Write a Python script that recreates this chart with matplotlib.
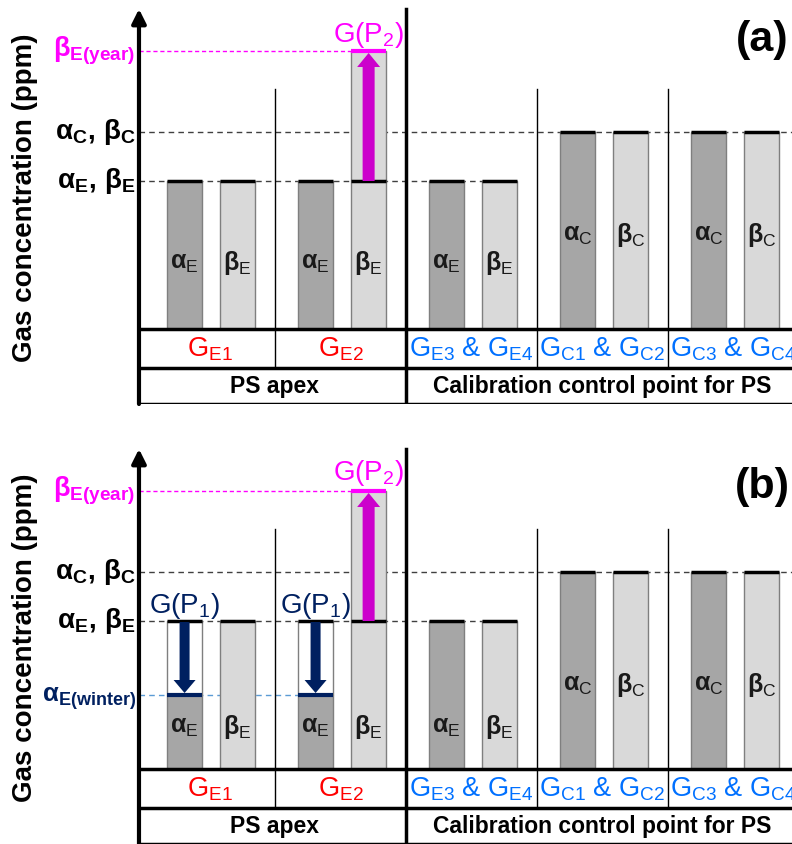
import matplotlib
matplotlib.use('Agg')
import matplotlib.pyplot as plt

plt.rcParams['font.family'] = 'Liberation Sans'
plt.rcParams['mathtext.fontset'] = 'custom'
plt.rcParams['mathtext.rm'] = 'Liberation Sans'
plt.rcParams['mathtext.bf'] = 'Liberation Sans:bold'
plt.rcParams['mathtext.it'] = 'Liberation Sans:italic'

# ---------------------------------------------------------------------------
# Data (schematic concentration levels, arbitrary ppm units)
# ---------------------------------------------------------------------------
GROUP_LABELS = [r'$\mathregular{G_{E1}}$', r'$\mathregular{G_{E2}}$',
                r'$\mathregular{G_{E3}}$ & $\mathregular{G_{E4}}$',
                r'$\mathregular{G_{C1}}$ & $\mathregular{G_{C2}}$',
                r'$\mathregular{G_{C3}}$ & $\mathregular{G_{C4}}$']
GROUP_KIND = ['E', 'E', 'E', 'C', 'C']
LEVEL = {'E': 148, 'C': 197}
BETA_YEAR = 278          # beta_E(year) reached in G_E2
ALPHA_WINTER = 74        # alpha_E(winter) in G_E1, G_E2 (panel b)
P2_GROUPS = [1]
P1_GROUPS = [0, 1]
SECTIONS = ['PS apex', 'Calibration control point for PS']
SECTION_SPANS = [(0, 2), (2, 5)]

# ---------------------------------------------------------------------------
# Style / layout
# ---------------------------------------------------------------------------
DARK = '#a6a6a6'
LIGHT = '#d9d9d9'
EDGE = '#7f7f7f'
MAGENTA = '#ff00ff'
MAG_ARROW = '#cc00cc'
NAVY = '#002060'
BLUE = '#0070ff'
RED = '#ff0000'
WINTER_LINE = '#5b9bd5'

XLIM = (-1.099, 4.947)
YLIM = (-75, 329)
AX_X = -0.038
ROW1 = -39
ROW2 = -75
SEP_TOP = 240
AXIS_TOP = 320
A_OFF, B_OFF, BAR_W = 0.31, 0.715, 0.267
PX = 1 / 131.0  # one pixel in x data units


def top_line(ax, x, y, color='black', lw=2.5):
    ax.plot([x - BAR_W / 2, x + BAR_W / 2], [y, y], color=color, lw=lw,
            solid_capstyle='butt', zorder=5)


def draw_panel(ax, tag, winter, lab_e, lab_c, tag_y, gp2_y):
    ax.set_xlim(*XLIM)
    ax.set_ylim(*YLIM)
    ax.axis('off')
    lv_e, lv_c = LEVEL['E'], LEVEL['C']

    # reference levels
    ax.plot([AX_X, XLIM[1]], [lv_c, lv_c], ls=(0, (4, 3)), color='#404040', lw=1, zorder=1)
    ax.plot([AX_X, 2 + B_OFF + BAR_W / 2], [lv_e, lv_e], ls=(0, (4, 3)),
            color='#404040', lw=1, zorder=1)
    ax.plot([AX_X, P2_GROUPS[0] + B_OFF - BAR_W / 2], [BETA_YEAR, BETA_YEAR],
            ls=(0, (3, 2)), color=MAGENTA, lw=1, zorder=1)
    if winter:
        ax.plot([AX_X, P1_GROUPS[-1] + A_OFF - BAR_W / 2], [ALPHA_WINTER] * 2,
                ls=(0, (4, 3)), color=WINTER_LINE, lw=1, zorder=1)

    for k, kind in enumerate(GROUP_KIND):
        lv = LEVEL[kind]
        xa, xb = k + A_OFF, k + B_OFF
        # alpha bar
        if winter and k in P1_GROUPS:
            ax.bar(xa, ALPHA_WINTER, width=BAR_W, color=DARK, edgecolor=EDGE, lw=1, zorder=3)
            ax.bar(xa, lv - ALPHA_WINTER, bottom=ALPHA_WINTER, width=BAR_W, color='white',
                   edgecolor=EDGE, lw=1, zorder=3)
            top_line(ax, xa, ALPHA_WINTER, color=NAVY, lw=3)
            ax.arrow(xa, lv - 1, 0, ALPHA_WINTER - lv + 3, width=10 * PX, head_width=22 * PX,
                     head_length=13, length_includes_head=True, color=NAVY, lw=0, zorder=6)
            ax.text(xa, 156, r'$\mathregular{G(P_1)}$', ha='center', va='baseline',
                    fontsize=20, color=NAVY, zorder=7)
        else:
            ax.bar(xa, lv, width=BAR_W, color=DARK, edgecolor=EDGE, lw=1, zorder=3)
        top_line(ax, xa, lv)
        # beta bar
        ax.bar(xb, lv, width=BAR_W, color=LIGHT, edgecolor=EDGE, lw=1, zorder=3)
        if k in P2_GROUPS:
            ax.bar(xb, BETA_YEAR - lv, bottom=lv, width=BAR_W, color=LIGHT, edgecolor=EDGE,
                   lw=1, zorder=3)
            top_line(ax, xb, BETA_YEAR, color=MAGENTA, lw=3)
            ax.arrow(xb, lv, 0, BETA_YEAR - lv - 2, width=12 * PX, head_width=23 * PX,
                     head_length=14, length_includes_head=True, color=MAG_ARROW, lw=0, zorder=6)
            ax.text(xb, gp2_y, r'$\mathregular{G(P_2)}$', ha='center', va='baseline',
                    fontsize=20, color=MAGENTA, zorder=7)
        top_line(ax, xb, lv)

        # in-bar labels
        ly = lab_e if kind == 'E' else lab_c
        ax.text(xa, ly, r'$\mathbf{\alpha}_{\mathregular{%s}}$' % kind, ha='center',
                va='center', fontsize=18, color='#1a1a1a', zorder=7)
        ax.text(xb, ly, r'$\mathbf{\beta}_{\mathregular{%s}}$' % kind, ha='center',
                va='center', fontsize=18, color='#1a1a1a', zorder=7)

        # group label row
        ax.text(k + 0.5, (0 + ROW1) / 2 - 1, GROUP_LABELS[k], ha='center', va='center',
                fontsize=19.5, color=RED if k < 2 else BLUE)

    # separators
    for k in (1, 3, 4):
        ax.plot([k, k], [ROW1, SEP_TOP], color='black', lw=1, zorder=2)
    ax.plot([2, 2], [ROW2, AXIS_TOP], color='black', lw=2.5, zorder=2)
    for y in (0, ROW1, ROW2):
        ax.plot([AX_X, XLIM[1]], [y, y], color='black', lw=2.5, zorder=4,
                solid_capstyle='butt')

    # y axis with arrow head
    ax.annotate('', xy=(AX_X, AXIS_TOP), xytext=(AX_X, ROW2),
                arrowprops=dict(arrowstyle='-|>,head_length=0.6,head_width=0.3',
                                lw=3, color='black', mutation_scale=14,
                                shrinkA=0, shrinkB=0), annotation_clip=False)

    # section labels
    for name, (s0, s1) in zip(SECTIONS, SECTION_SPANS):
        ax.text((max(s0, AX_X) + s1) / 2, (ROW1 + ROW2) / 2, name, ha='center', va='center',
                fontsize=16.5, fontweight='bold')

    # level labels on the left
    lx = AX_X - 0.025
    ax.text(lx, lv_c, r'$\mathbf{\alpha_C,\,\beta_C}$', ha='right', va='center',
            fontsize=20)
    ax.text(lx, lv_e, r'$\mathbf{\alpha_E,\,\beta_E}$', ha='right', va='center',
            fontsize=20)
    ax.text(lx, BETA_YEAR, r'$\mathbf{\beta_{E(year)}}$', ha='right', va='center',
            fontsize=19.5, color=MAGENTA)
    if winter:
        ax.text(lx, ALPHA_WINTER - 4, r'$\mathbf{\alpha_{E(winter)}}$', ha='right',
                va='center', fontsize=18.5, color=NAVY)

    ax.text(-0.908, 131, 'Gas concentration (ppm)', rotation=90, ha='center', va='center',
            fontsize=20, fontweight='bold')
    ax.text(4.718, tag_y, tag, ha='center', va='center', fontsize=31, fontweight='bold')


fig = plt.figure(figsize=(7.92, 8.44), dpi=100)
H = 844.0
ax_a = fig.add_axes([0, (H - 404) / H, 1, 404 / H])
ax_b = fig.add_axes([0, 0, 1, 404 / H])
draw_panel(ax_a, '(a)', False, lab_e=66, lab_c=94, tag_y=289, gp2_y=287)
draw_panel(ax_b, '(b)', True, lab_e=42, lab_c=84, tag_y=282, gp2_y=289)

fig.savefig('out.png', dpi=100, facecolor='white')
